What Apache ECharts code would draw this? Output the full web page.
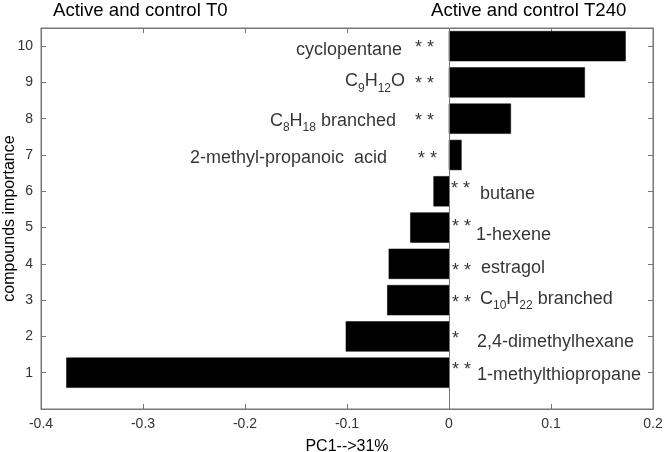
<!DOCTYPE html>
<html>
<head>
<meta charset="utf-8">
<script src="https://cdn.jsdelivr.net/npm/echarts@6/dist/echarts.min.js"></script>
<style>
html,body{margin:0;padding:0;background:#fff;}
#chart{width:664px;height:452px;}
</style>
</head>
<body>
<div id="chart"></div>
<script>
// ---- data ----
var ranks = [1, 2, 3, 4, 5, 6, 7, 8, 9, 10];
var values = [-0.375, -0.101, -0.0604, -0.0589, -0.0378, -0.015, 0.0121, 0.0605, 0.133, 0.173];
var names = ['1-methylthiopropane', '2,4-dimethylhexane', 'C10H22 branched', 'estragol', '1-hexene',
             'butane', '2-methyl-propanoic  acid', 'C8H18 branched', 'C9H12O', 'cyclopentane'];
var stars = ['**', '*', '**', '**', '**', '**', '**', '**', '**', '**'];
var xTicks = [-0.4, -0.3, -0.2, -0.1, 0, 0.1, 0.2];
var yTicks = [1, 2, 3, 4, 5, 6, 7, 8, 9, 10];
var leftTitle = 'Active and control T0';
var rightTitle = 'Active and control T240';
var xName = 'PC1-->31%';
var yName = 'compounds importance';

// ---- layout (pixel offsets of annotation text from the zero line / bar centre) ----
// [nameDx, nameDy, starDx, starDy]
var labelLayout = [
  [28, 2, 3, -3],
  [28, 6, 3, 3],
  [31, 1, 3, 3],
  [32, 4, 3, 7],
  [27, 7, 3, -1],
  [31, 3, 2, -2],
  [-62, 3, -31, 4],
  [-53, 4, -34, 2],
  [-44, 1, -34, 2],
  [-47, 4, -34, 2]
];

function toRich(name) {
  if (!/[A-Z]\d/.test(name)) return name;
  var out = '';
  var re = /([A-Z])(\d+)/g, last = 0, m;
  while ((m = re.exec(name)) !== null) {
    var before = name.slice(last, m.index) + m[1];
    out += '{n|' + before + '}{s|' + m[2] + '}';
    last = re.lastIndex;
  }
  if (last < name.length) out += '{n|' + name.slice(last) + '}';
  return out;
}

var axisColor = '#777';
var tickLabelColor = '#333';
var textColor = '#000';
var font = 'Arial, "Liberation Sans", Helvetica, sans-serif';
var barHalf = 0.41;

var chart = echarts.init(document.getElementById('chart'), null, {renderer: 'canvas'});

var nameData = ranks.map(function (r, i) {
  var pos = values[i] >= 0;
  var L = labelLayout[i];
  return {
    value: [0, r, names[i]],
    label: {align: pos ? 'right' : 'left', offset: [L[0], L[1]]}
  };
});
var starData = ranks.map(function (r, i) {
  var L = labelLayout[i];
  return {
    value: [0, r, stars[i]],
    label: {align: 'left', offset: [L[2], L[3]]}
  };
});

var option = {
  backgroundColor: '#fff',
  animation: false,
  textStyle: {fontFamily: font},
  title: [
    {text: leftTitle, left: 53, top: 1, padding: 0,
     textStyle: {fontSize: 18.6, fontWeight: 'normal', color: textColor, fontFamily: font}},
    {text: rightTitle, left: 431, top: 1, padding: 0,
     textStyle: {fontSize: 18.6, fontWeight: 'normal', color: textColor, fontFamily: font}}
  ],
  grid: {left: 41, right: 11, top: 28, bottom: 43, show: true, borderColor: axisColor, borderWidth: 1,
         backgroundColor: 'transparent', containLabel: false, outerBoundsMode: 'none'},
  xAxis: [
    {type: 'value', min: -0.4, max: 0.2, interval: 0.1, position: 'bottom',
     name: xName, nameLocation: 'middle', nameGap: 30, nameMoveOverlap: false,
     nameTextStyle: {fontSize: 16, color: textColor, fontFamily: font},
     axisLine: {show: true, onZero: false, lineStyle: {color: axisColor}},
     axisTick: {show: true, inside: true, length: 5, lineStyle: {color: axisColor}},
     axisLabel: {fontSize: 14, color: tickLabelColor, margin: 8, fontFamily: font,
       formatter: function (v) { var t = +(+v).toFixed(1); return xTicks.indexOf(t) >= 0 ? String(t) : ''; }},
     splitLine: {show: false}},
    {type: 'value', min: -0.4, max: 0.2, interval: 0.1, position: 'top',
     axisLine: {show: true, onZero: false, lineStyle: {color: axisColor}},
     axisTick: {show: true, inside: true, length: 5, lineStyle: {color: axisColor}},
     axisLabel: {show: false}, splitLine: {show: false}}
  ],
  yAxis: [
    {type: 'value', min: 0, max: 10.5, interval: 1, position: 'left',
     name: yName, nameLocation: 'middle', nameGap: 23, nameRotate: 90, nameMoveOverlap: false,
     nameTextStyle: {fontSize: 16, color: textColor, fontFamily: font},
     axisLine: {show: true, onZero: false, lineStyle: {color: axisColor}},
     axisTick: {show: true, inside: true, length: 5, lineStyle: {color: axisColor}},
     axisLabel: {fontSize: 14, color: tickLabelColor, margin: 8, fontFamily: font,
       showMinLabel: false, showMaxLabel: false,
       formatter: function (v) { return yTicks.indexOf(v) >= 0 ? String(v) : ''; }},
     splitLine: {show: false}},
    {type: 'value', min: 0, max: 10.5, interval: 1, position: 'right',
     axisLine: {show: true, onZero: false, lineStyle: {color: axisColor}},
     axisTick: {show: true, inside: true, length: 5, lineStyle: {color: axisColor}},
     axisLabel: {show: false}, splitLine: {show: false}}
  ],
  series: [
    {
      type: 'custom',
      xAxisIndex: 0, yAxisIndex: 0,
      data: values.map(function (v, i) { return [v, ranks[i]]; }),
      renderItem: function (params, api) {
        var v = api.value(0), y = api.value(1);
        var p0 = api.coord([0, y + barHalf]);
        var p1 = api.coord([v, y - barHalf]);
        return {
          type: 'rect',
          shape: {x: Math.min(p0[0], p1[0]), y: p0[1], width: Math.abs(p1[0] - p0[0]), height: p1[1] - p0[1]},
          style: {fill: '#000', stroke: '#000', lineWidth: 0.5}
        };
      },
      markLine: {
        silent: true, symbol: 'none', animation: false,
        label: {show: false},
        lineStyle: {color: axisColor, width: 1, type: 'solid'},
        data: [{xAxis: 0}]
      },
      z: 2
    },
    {
      type: 'scatter', symbolSize: 0, silent: true,
      data: nameData,
      label: {
        show: true, position: 'inside', verticalAlign: 'middle',
        fontSize: 18, color: textColor, fontFamily: font,
        formatter: function (p) { return toRich(p.value[2]); },
        rich: {
          n: {fontSize: 18, color: textColor, fontFamily: font, verticalAlign: 'bottom', padding: [0, 0, 4, 0]},
          s: {fontSize: 12, color: textColor, fontFamily: font, verticalAlign: 'bottom'}
        }
      },
      z: 3
    },
    {
      type: 'scatter', symbolSize: 0, silent: true,
      data: starData,
      label: {
        show: true, position: 'inside', verticalAlign: 'middle',
        fontSize: 18, color: textColor, fontFamily: font,
        formatter: function (p) { return p.value[2].split('').join(' '); }
      },
      z: 3
    }
  ]
};
chart.setOption(option);
</script>
</body>
</html>
